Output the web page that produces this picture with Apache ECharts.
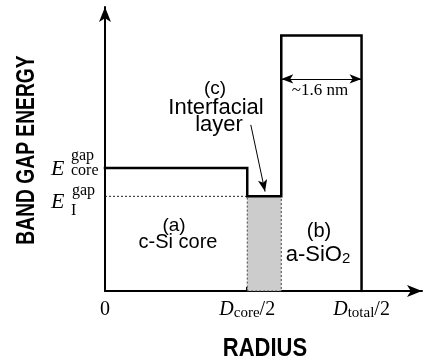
<!DOCTYPE html>
<html>
<head>
<meta charset="utf-8">
<script src="https://cdn.jsdelivr.net/npm/echarts@6/dist/echarts.min.js"></script>
<style>
  html, body { margin: 0; background: #fff; }
  #chart { width: 424px; height: 362px; }
</style>
</head>
<body>
<div id="chart"></div>
<script>
// band gap profile across the nanocrystal, radius in nm (schematic)
const radius = [0, 2.8, 2.8, 3.47, 3.47, 5.05, 5.05]
const gapEnergy = [2.6, 2.6, 2.0, 2.0, 5.4, 5.4, 0]
const coreRadius = 2.8
const interfaceEnd = 3.47
const totalRadius = 5.05
const coreGap = 2.6
const interfaceGap = 2.0
const oxideWidthY = 4.48
const xTickValues = [0, 2.8, 5.05]
const xTickLabels = ['{n|0}', '{d|D}{s|core}{n|/2}', '{d|D}{s|total}{n|/2}']

const serif = '"Liberation Serif", "DejaVu Serif", serif'
const sans = '"Liberation Sans", Arial, sans-serif'

const profile = radius.map((r, i) => [r, gapEnergy[i]])

const option = {
  animation: false,
  grid: { left: 105, right: 2, top: 7, bottom: 71 },
  xAxis: {
    type: 'value',
    min: 0,
    max: 6.24,
    axisLine: {
      lineStyle: { color: '#000', width: 2 },
      symbol: ['none', 'arrow'],
      symbolSize: [9, 15],
    },
    axisTick: { show: true, inside: true, length: 4, customValues: [coreRadius], lineStyle: { color: '#000', width: 2 } },
    splitLine: { show: false },
    axisLabel: {
      customValues: xTickValues,
      margin: 8,
      formatter: (v) => xTickLabels[xTickValues.indexOf(v)],
      rich: {
        d: { fontFamily: serif, fontStyle: 'italic', fontSize: 20, color: '#000', lineHeight: 22 },
        n: { fontFamily: serif, fontSize: 20, color: '#000', lineHeight: 22 },
        s: { fontFamily: serif, fontSize: 15, color: '#000', lineHeight: 15, verticalAlign: 'bottom' },
      },
    },
  },
  yAxis: {
    type: 'value',
    min: 0,
    max: 6.0,
    axisLine: {
      show: true,
      lineStyle: { color: '#000', width: 2 },
      symbol: ['none', 'arrow'],
      symbolSize: [9, 15],
    },
    axisTick: { show: false },
    splitLine: { show: false },
    axisLabel: { show: false },
  },
  series: [
    {
      name: 'interface',
      type: 'line',
      data: [[0, interfaceGap], [coreRadius, interfaceGap]],
      symbol: 'none',
      lineStyle: { color: '#222', width: 1, type: [2, 2] },
      z: 1,
      markArea: {
        silent: true,
        itemStyle: { color: '#cccccc', borderColor: '#444', borderWidth: 1, borderType: [2, 2] },
        data: [[{ coord: [coreRadius, 0] }, { coord: [interfaceEnd, interfaceGap] }]],
      },
      markLine: {
        silent: true,
        animation: false,
        label: { show: false },
        lineStyle: { color: '#000', width: 1, type: 'solid' },
        data: [
          [
            { coord: [interfaceEnd, oxideWidthY], symbol: 'arrow', symbolSize: [7, 12] },
            { coord: [totalRadius, oxideWidthY], symbol: 'arrow', symbolSize: [7, 12] },
          ],
          [
            { coord: [2.87, 3.51], symbol: 'none' },
            { coord: [3.15, 2.1], symbol: 'arrow', symbolSize: [7, 12] },
          ],
        ],
      },
    },
    {
      name: 'gap',
      type: 'line',
      data: profile,
      symbol: 'none',
      lineStyle: { color: '#000', width: 2.5, join: 'miter', cap: 'square' },
      z: 3,
    },
  ],
}

const chart = echarts.init(document.getElementById('chart'))
chart.setOption(option)

const yCore = chart.convertToPixel({ gridIndex: 0 }, [0, coreGap])[1]
const yI = chart.convertToPixel({ gridIndex: 0 }, [0, interfaceGap])[1]

function txt(x, y, text, font, align, extra) {
  return Object.assign({
    type: 'text', x: x, y: y,
    style: { text: text, font: font, fill: '#000', align: align || 'center', verticalAlign: 'middle',
             textAlign: align || 'center', textVerticalAlign: 'middle' },
  }, extra || {})
}

chart.setOption({
  graphic: [
    // axis titles
    txt(27.5, 150, 'BAND GAP ENERGY', 'bold 25px ' + sans, 'center', { rotation: Math.PI / 2, scaleX: 0.77 }),
    txt(265, 349, 'RADIUS', 'bold 25px ' + sans, 'center', { scaleX: 0.88 }),
    // level labels
    txt(51, yCore + 1.5, 'E', 'italic 22px ' + serif, 'left'),
    txt(71, yCore - 12, 'gap', '16px ' + serif, 'left'),
    txt(71, yCore + 3, 'core', '16px ' + serif, 'left'),
    txt(51, yI + 5.5, 'E', 'italic 22px ' + serif, 'left'),
    txt(72, yI - 6, 'gap', '16px ' + serif, 'left'),
    txt(71, yI + 14, 'I', '16px ' + serif, 'left'),
    // region labels
    txt(215, 89, '(c)', '19px ' + sans),
    txt(216, 108, 'Interfacial', '22px ' + sans),
    txt(219, 125, 'layer', '22px ' + sans),
    txt(174, 226, '(a)', '19px ' + sans),
    txt(178, 242, 'c-Si core', '20px ' + sans),
    txt(319, 231.5, '(b)', '20px ' + sans),
    {
      type: 'text', x: 318, y: 255,
      style: {
        text: '{t|a-SiO}{s|2}', align: 'center', verticalAlign: 'middle',
        textAlign: 'center', textVerticalAlign: 'middle',
        rich: {
          t: { font: '22px ' + sans, fill: '#000', lineHeight: 22 },
          s: { font: '15px ' + sans, fill: '#000', lineHeight: 14, verticalAlign: 'bottom' },
        },
      },
    },
    txt(320, 91, '~1.6 nm', '17px ' + serif),
  ],
})

window.addEventListener('resize', function () {
  chart.resize()
})
</script>
</body>
</html>
